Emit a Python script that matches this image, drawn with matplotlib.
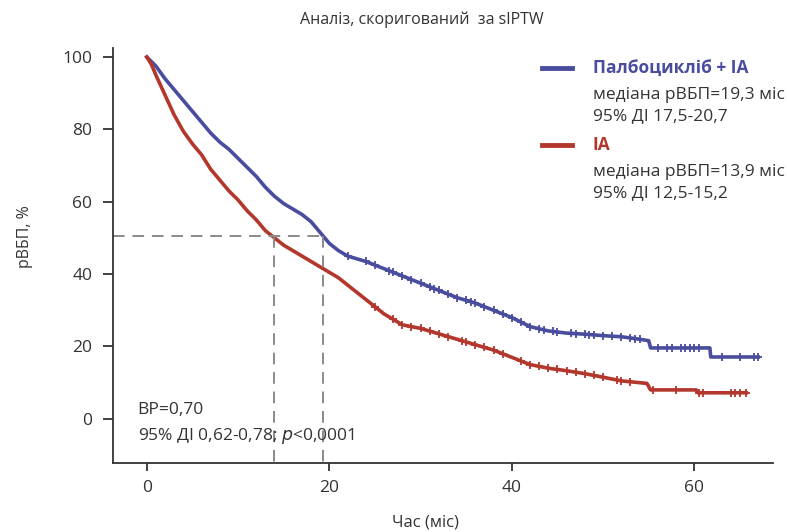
import numpy as np
import matplotlib.pyplot as plt

plt.rcParams['font.family'] = ['Open Sans', 'DejaVu Sans']

# Kaplan-Meier curves (months, PFS %)
palbo_t = [0, 1, 2, 3, 4, 5, 6, 7, 8, 9, 10, 11, 12, 13, 14, 15, 16, 17, 18, 19, 19.5,
           20, 21, 22, 24, 26, 28, 30, 32, 34, 36, 38, 40, 42, 44, 46, 48, 50, 52, 54,
           55, 55.2, 61.7, 61.8, 67]
palbo_s = [100, 97.5, 94, 91, 88, 85, 82, 79, 76.5, 74.5, 72, 69.5, 67, 64, 61.5, 59.5, 58,
           56.5, 54.5, 51.5, 50, 48.5, 46.5, 45, 43.5, 41.5, 39.5, 37.5, 35.5, 33.5, 32, 30,
           28, 25.5, 24.3, 23.7, 23.4, 23, 22.7, 22, 21.6, 19.6, 19.6, 17.1, 17.1]

ia_t = [0, 0.5, 1, 2, 3, 4, 5, 6, 7, 8, 9, 10, 11, 12, 13, 14, 15, 16, 17, 18, 19, 20,
        21, 22, 23, 24, 26, 28, 30, 32, 34, 36, 38, 40, 42, 44, 46, 48, 50, 52, 54, 54.8,
        55.2, 60.2, 60.4, 65.7]
ia_s = [100, 98, 95, 89.5, 84, 79.5, 76, 73, 69, 66, 63, 60.5, 57.5, 55, 52, 50, 48, 46.5,
        45, 43.5, 42, 40.5, 39, 37, 35, 33, 29, 26, 25, 23.5, 22, 20.5, 19, 17, 15, 14,
        13.3, 12.5, 11.5, 10.5, 10, 9.8, 8, 8, 7.2, 7.2]

# censoring times
palbo_cens = [22, 24, 25, 26.5, 27, 28, 29, 30, 31, 31.5, 32, 33, 34, 35, 35.5, 36, 37, 38,
              39, 40, 41, 42, 43, 43.5, 44.5, 45, 46.5, 47, 48, 48.5, 49, 50, 51, 52, 53,
              53.5, 54, 56, 57, 57.5, 58.5, 59, 59.5, 60, 60.5, 63, 65, 66.5, 67]
ia_cens = [25, 27, 28, 29, 30, 31, 32, 33, 34.5, 35, 36, 37, 38, 39, 41, 42, 43, 44, 45,
           46, 47, 48, 49, 50, 51.5, 52, 53, 55.5, 58, 60.5, 61, 64, 64.5, 65, 65.7]

medians = [19.3, 13.9]

blue = '#4a4d9e'
red = '#b3372c'
dark = '#333333'

fig = plt.figure(figsize=(7.87, 5.32), dpi=100)
ax = fig.add_axes([0.1436, 0.1297, 0.8384, 0.7801])

ax.plot(palbo_t, palbo_s, color=blue, lw=2.6)
ax.plot(ia_t, ia_s, color=red, lw=2.6)
ax.plot(palbo_cens, np.interp(palbo_cens, palbo_t, palbo_s), '+', color=blue, ms=6, mew=1.3)
ax.plot(ia_cens, np.interp(ia_cens, ia_t, ia_s), '+', color=red, ms=6, mew=1.3)

# median lines
ax.plot([-3.7, max(medians)], [50.5, 50.5], color='#8a8a8a', lw=1.4, ls=(0, (6, 4)))
for m in medians:
    ax.plot([m, m], [50.5, -12.2], color='#8a8a8a', lw=1.4, ls=(0, (6, 4)))

ax.set_xlim(-3.7, 68.6)
ax.set_ylim(-12.2, 102.5)
ax.set_xticks([0, 20, 40, 60])
ax.set_yticks([0, 20, 40, 60, 80, 100])
for sp in ['top', 'right']:
    ax.spines[sp].set_visible(False)
for sp in ['left', 'bottom']:
    ax.spines[sp].set_color(dark)
    ax.spines[sp].set_linewidth(1.3)
ax.tick_params(axis='y', length=7, width=1.3, color=dark, pad=8, labelsize=12.5, labelcolor=dark)
ax.tick_params(axis='x', length=6, width=1.3, color=dark, pad=6, labelsize=12.5, labelcolor=dark)

fig.text(0.536, 0.962, 'Аналіз, скоригований  за sIPTW', ha='center', va='center',
         fontsize=11.5, color=dark)
fig.text(0.541, 0.017, 'Час (міс)', ha='center', va='center', fontsize=12, color=dark)
fig.text(0.032, 0.556, 'рВБП, %', ha='center', va='center', rotation=90, fontsize=11.5,
         color=dark)

# legend
lx0, lx1, tx = 0.689, 0.727, 0.753
fig.add_artist(plt.Line2D([lx0, lx1], [0.872, 0.872], color=blue, lw=3.5))
fig.add_artist(plt.Line2D([lx0, lx1], [0.727, 0.727], color=red, lw=3.5))
fig.text(tx, 0.872, 'Палбоцикліб + ІА', color=blue, fontsize=12.5, fontweight='bold',
         va='center')
fig.text(tx, 0.821, 'медіана рВБП=19,3 міс', color=dark, fontsize=12.5, va='center')
fig.text(tx, 0.782, '95% ДІ 17,5-20,7', color=dark, fontsize=12.5, va='center')
fig.text(tx, 0.727, 'ІА', color=red, fontsize=12.5, fontweight='bold', va='center')
fig.text(tx, 0.677, 'медіана рВБП=13,9 міс', color=dark, fontsize=12.5, va='center')
fig.text(tx, 0.637, '95% ДІ 12,5-15,2', color=dark, fontsize=12.5, va='center')

fig.text(0.175, 0.230, 'ВР=0,70', color=dark, fontsize=12.5, va='center')
fig.text(0.175, 0.181, '95% ДІ 0,62-0,78; $\\it{p}$<0,0001', color=dark, fontsize=12.5,
         va='center')

fig.savefig('out.png', dpi=100)
